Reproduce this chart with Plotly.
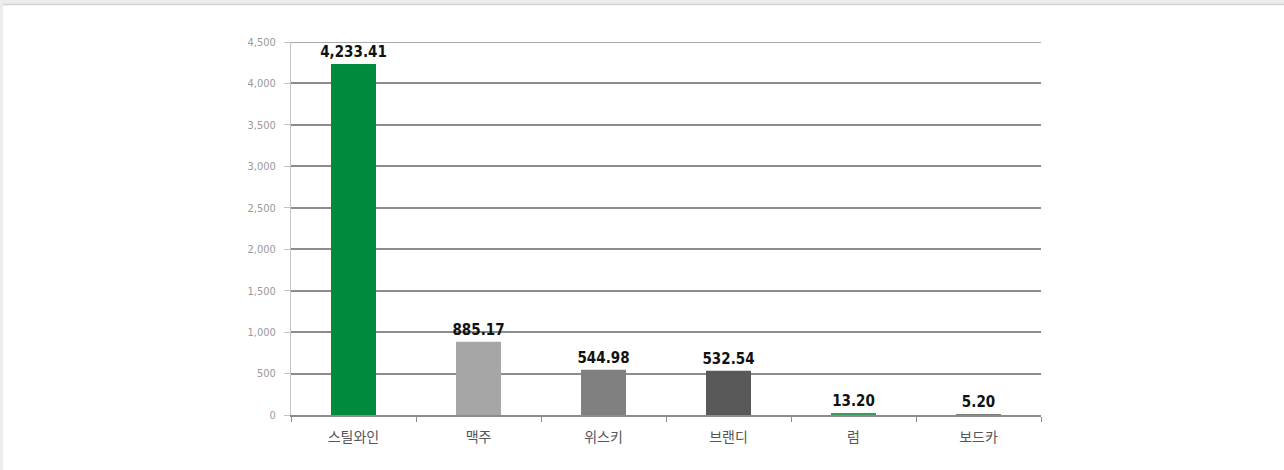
import plotly.graph_objects as go

categories = ["스틸와인", "맥주", "위스키", "브랜디", "럼", "보드카"]
values = [4233.41, 885.17, 544.98, 532.54, 13.20, 5.20]
bar_colors = ["#008a3e", "#a6a6a6", "#808080", "#595959", "#3a9a5e", "#7f7f7f"]
y_ticks = [0, 500, 1000, 1500, 2000, 2500, 3000, 3500, 4000, 4500]

fig = go.Figure(
    go.Bar(
        x=categories,
        y=values,
        marker=dict(color=bar_colors, line=dict(width=0)),
        texttemplate="%{y:,.2f}",
        textposition="outside",
        constraintext="none",
        cliponaxis=False,
        textfont=dict(family="DejaVu Sans Condensed", size=15, color="#111111", weight="bold"),
        hoverinfo="skip",
    )
)

fig.update_layout(
    width=1284,
    height=470,
    margin=dict(l=291, r=243, t=42, b=55),
    paper_bgcolor="#ffffff",
    plot_bgcolor="#ffffff",
    bargap=0.64,
    showlegend=False,
    uniformtext=dict(mode=False),
    shapes=[
        # page frame strips
        dict(type="rect", xref="paper", yref="paper", x0=-291 / 750, x1=993 / 750,
             y0=1 + 38 / 373, y1=1 + 42 / 373, fillcolor="#ececec", line=dict(width=0), layer="below"),
        dict(type="line", xref="paper", yref="paper", x0=-288 / 750, x1=993 / 750,
             y0=1 + 37.5 / 373, y1=1 + 37.5 / 373, line=dict(color="#d2d2d2", width=1.5), layer="below"),
        dict(type="rect", xref="paper", yref="paper", x0=-291 / 750, x1=-288 / 750,
             y0=-55 / 373, y1=1 + 42 / 373, fillcolor="#ececec", line=dict(width=0), layer="below"),
        # top gridline at the axis maximum
        dict(type="line", xref="paper", yref="y", x0=0, x1=1,
             y0=y_ticks[-1], y1=y_ticks[-1], line=dict(color="#8c8c8c", width=1.5), layer="below"),
    ],
)

fig.update_xaxes(
    type="category",
    showgrid=False,
    showline=True,
    linecolor="#8c8c8c",
    linewidth=1.5,
    ticks="outside",
    tickson="boundaries",
    ticklen=5,
    tickcolor="#8c8c8c",
    ticklabelstandoff=8,
    tickfont=dict(family="Noto Sans CJK KR", size=14, color="#555555"),
)

fig.update_yaxes(
    range=[0, 4500],
    tickvals=y_ticks,
    tickformat=",",
    showgrid=True,
    gridcolor="#8c8c8c",
    gridwidth=1.5,
    showline=True,
    linecolor="#c4c4c4",
    linewidth=1,
    ticks="outside",
    ticklen=6,
    tickcolor="#c4c4c4",
    ticklabelstandoff=6,
    zeroline=False,
    tickfont=dict(family="DejaVu Sans Condensed", size=11, color="#9a9a9a"),
)

fig.write_html("out.html")
